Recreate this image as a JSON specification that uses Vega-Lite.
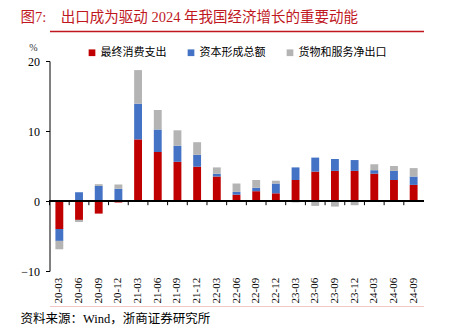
{
  "$schema": "https://vega.github.io/schema/vega-lite/v6.json",
  "width": 374,
  "height": 210,
  "autosize": {"type": "none"},
  "padding": {"left": 49.5, "top": 61, "right": 28.5, "bottom": 60},
  "background": "white",
  "config": {"view": {"stroke": null}},
  "data": {
    "values": [
      {"q": "20-03", "最终消费支出": -4.0, "资本形成总额": -1.7, "货物和服务净出口": -1.2},
      {"q": "20-06", "最终消费支出": -2.7, "资本形成总额": 1.25, "货物和服务净出口": -0.3},
      {"q": "20-09", "最终消费支出": -1.8, "资本形成总额": 2.15, "货物和服务净出口": 0.25},
      {"q": "20-12", "最终消费支出": -0.2, "资本形成总额": 1.75, "货物和服务净出口": 0.6},
      {"q": "21-03", "最终消费支出": 8.8, "资本形成总额": 5.1, "货物和服务净出口": 4.8},
      {"q": "21-06", "最终消费支出": 7.0, "资本形成总额": 3.2, "货物和服务净出口": 2.8},
      {"q": "21-09", "最终消费支出": 5.6, "资本形成总额": 2.3, "货物和服务净出口": 2.2},
      {"q": "21-12", "最终消费支出": 4.9, "资本形成总额": 1.7, "货物和服务净出口": 1.8},
      {"q": "22-03", "最终消费支出": 3.5, "资本形成总额": 0.4, "货物和服务净出口": 0.9},
      {"q": "22-06", "最终消费支出": 0.9, "资本形成总额": 0.4, "货物和服务净出口": 1.2},
      {"q": "22-09", "最终消费支出": 1.4, "资本形成总额": 0.5, "货物和服务净出口": 1.1},
      {"q": "22-12", "最终消费支出": 1.1, "资本形成总额": 1.4, "货物和服务净出口": 0.4},
      {"q": "23-03", "最终消费支出": 3.0, "资本形成总额": 1.8, "货物和服务净出口": -0.2},
      {"q": "23-06", "最终消费支出": 4.2, "资本形成总额": 2.0, "货物和服务净出口": -0.7},
      {"q": "23-09", "最终消费支出": 4.3, "资本形成总额": 1.7, "货物和服务净出口": -0.8},
      {"q": "23-12", "最终消费支出": 4.3, "资本形成总额": 1.55, "货物和服务净出口": -0.6},
      {"q": "24-03", "最终消费支出": 3.9, "资本形成总额": 0.5, "货物和服务净出口": 0.85},
      {"q": "24-06", "最终消费支出": 3.0, "资本形成总额": 1.3, "货物和服务净出口": 0.7},
      {"q": "24-09", "最终消费支出": 2.3, "资本形成总额": 1.2, "货物和服务净出口": 1.2}
    ]
  },
  "resolve": {"scale": {"x": "independent"}, "axis": {"x": "independent"}},
  "layer": [
    {
      "transform": [
        {"fold": ["最终消费支出", "资本形成总额", "货物和服务净出口"], "as": ["s", "v"]},
        {"calculate": "indexof(['最终消费支出','资本形成总额','货物和服务净出口'], datum.s)", "as": "o"}
      ],
      "mark": {"type": "bar"},
      "encoding": {
        "x": {
          "field": "q", "type": "nominal", "sort": null,
          "scale": {"paddingInner": 0.6, "paddingOuter": 0.3},
          "axis": {
            "orient": "bottom",
            "offset": 35,
            "domainColor": "#F4C7C7",
            "domainWidth": 1.2,
            "ticks": false,
            "tickSize": 0,
            "labelAngle": 270,
            "labelAlign": "left",
            "labelBaseline": "middle",
            "labelPadding": -3,
            "labelFont": "Liberation Serif",
            "labelFontSize": 11,
            "labelColor": "#000000",
            "labelOverlap": false,
            "title": "资料来源：Wind，浙商证券研究所",
            "titleX": -29.5,
            "titleY": 12,
            "titleAlign": "left",
            "titleBaseline": "middle",
            "titleFont": "Liberation Serif, Noto Sans CJK SC",
            "titleFontSize": 12.5,
            "titleFontWeight": "normal",
            "titleColor": "#000000"
          }
        },
        "y": {
          "field": "v", "type": "quantitative", "stack": "zero",
          "scale": {"domain": [-10, 20], "nice": false, "zero": false},
          "axis": {
            "values": [-10, -5, 0, 5, 10, 15, 20],
            "grid": false,
            "domainColor": "#000000",
            "tickColor": "#000000",
            "tickSize": 4,
            "labelPadding": 6,
            "labelFont": "Liberation Serif",
            "labelFontSize": 12,
            "labelColor": "#000000",
            "title": "%",
            "titleAngle": 0,
            "titleX": -16.5,
            "titleY": -14,
            "titleAlign": "center",
            "titleBaseline": "middle",
            "titleFont": "Liberation Serif",
            "titleFontSize": 10,
            "titleFontWeight": "normal",
            "titleColor": "#333333"
          }
        },
        "color": {
          "field": "s", "type": "nominal",
          "scale": {
            "domain": ["最终消费支出", "资本形成总额", "货物和服务净出口"],
            "range": ["#C00000", "#4472C4", "#B4B4B4"]
          },
          "legend": {
            "orient": "none",
            "direction": "horizontal",
            "legendX": 37,
            "legendY": -14,
            "title": null,
            "symbolType": "square",
            "symbolSize": 45,
            "symbolStrokeWidth": 0,
            "labelFont": "Noto Sans CJK SC",
            "labelFontSize": 11,
            "labelColor": "#000000",
            "labelOffset": 3,
            "columnPadding": 19
          }
        },
        "order": {"field": "o", "type": "quantitative"}
      }
    },
    {
      "mark": {"type": "rule", "color": "#000000", "strokeWidth": 1},
      "encoding": {"y": {"datum": 0, "type": "quantitative"}}
    },
    {
      "mark": {"type": "rule", "color": "#000000", "strokeWidth": 1},
      "encoding": {
        "x": {
          "field": "q", "type": "nominal", "sort": null, "bandPosition": 0,
          "scale": {"paddingInner": 0, "paddingOuter": 0},
          "axis": {
            "orient": "top",
            "offset": 30,
            "domain": true,
            "domainColor": "#C0171E",
            "domainWidth": 1.5,
            "ticks": false,
            "labels": true,
            "labelOpacity": 0,
            "title": "图7:\u00a0\u00a0\u00a0\u00a0出口成为驱动 2024 年我国经济增长的重要动能",
            "titleX": -29.5,
            "titleY": -13.5,
            "titleAlign": "left",
            "titleAnchor": "start",
            "titleBaseline": "middle",
            "titleFont": "Liberation Serif, Noto Sans CJK SC",
            "titleFontSize": 14.5,
            "titleFontWeight": "normal",
            "titleColor": "#C0171E"
          }
        },
        "y": {"datum": 0, "type": "quantitative"},
        "y2": {"datum": -0.6}
      }
    }
  ]
}
